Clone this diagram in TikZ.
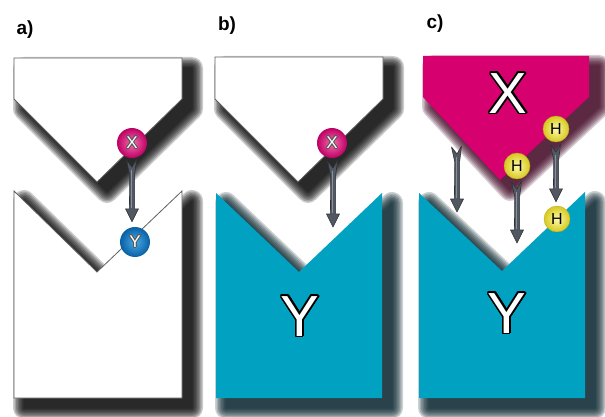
\documentclass[tikz,border=0pt]{standalone}
\usepackage{fontspec}
\setmainfont{Liberation Sans}
\usepackage{contour}
\contournumber{32}
\usetikzlibrary{calc}

\definecolor{tealfill}{RGB}{0,161,193}
\definecolor{magfill}{RGB}{214,0,110}
\definecolor{edgegray}{RGB}{95,95,95}
\definecolor{dartfill}{RGB}{82,88,98}
\definecolor{dartline}{RGB}{45,48,54}
\definecolor{darthi}{RGB}{140,146,156}
\definecolor{tealshadow}{RGB}{0,30,40}
\definecolor{magshadow}{RGB}{60,0,30}

% outlines of the six blocks
\newcommand\blockTopA{(14,58) -- (182,58) -- (182,99) -- (97,182) -- (14,99) -- cycle}
\newcommand\blockTopB{(215,57) -- (383,57) -- (383,99) -- (298,182) -- (215,99) -- cycle}
\newcommand\blockTopC{(423,56) -- (589,56) -- (589,97) -- (500,180) -- (423,97) -- cycle}
\newcommand\blockBotA{(14,191) -- (97,272) -- (182,191) -- (182,398) -- (14,398) -- cycle}
\newcommand\blockBotB{(216,193) -- (299,272) -- (382,193) -- (382,398) -- (216,398) -- cycle}
\newcommand\blockBotC{(419,193) -- (502,271) -- (585,192) -- (585,398) -- (419,398) -- cycle}

% soft shadow: stacked translucent strokes of decreasing width
\newcommand\shadowwidths{22,19,16,13,10,7,4,1}
\newcommand\softshadow[4]{% colour, x shift, y shift, path
  \foreach \w in \shadowwidths {%
    \begin{scope}[xshift=#2, yshift=#3, transparency group, opacity=0.2]
      \path[fill=#1, draw=#1, line width=\w pt, line join=round] #4;
    \end{scope}}}

% feathered arrow from a start point straight down to a tip point
\newcommand\dart[2]{%
  \path[fill=dartfill, draw=dartline, line width=0.6pt, line join=round]
    let \p1=(#1), \p2=(#2) in
    ({\x1-5.5pt},\y1) -- (\x1,{\y1-7pt}) -- ({\x1+4.5pt},{\y1+1pt}) -- ({\x1+2.6pt},{\y1-15pt})
    -- ({\x1+2.6pt},{\y2+13pt}) -- ({\x1+6.5pt},{\y2+13pt}) -- (\x1,\y2)
    -- ({\x1-6.5pt},{\y2+13pt}) -- ({\x1-2.6pt},{\y2+13pt}) -- ({\x1-2.2pt},{\y1-15pt}) -- cycle;
  \path[draw=darthi, line width=1pt]
    let \p1=(#1), \p2=(#2) in ({\x1-0.6pt},{\y1-10pt}) -- ({\x1-0.6pt},{\y2+14pt});}

\tikzset{
  panellabel/.style={font=\bfseries\fontsize{19}{19}\selectfont, inner sep=0pt},
  ball/.style={circle, minimum size=30pt, inner sep=0pt, shading=radial,
    font=\fontsize{17}{17}\selectfont},
  ballM/.style={ball, inner color={rgb,255:red,245;green,110;blue,175}, outer color={rgb,255:red,190;green,0;blue,100}},
  ballB/.style={ball, inner color={rgb,255:red,70;green,170;blue,230}, outer color={rgb,255:red,10;green,95;blue,165}},
  ballH/.style={circle, minimum size=26pt, inner sep=0pt, shading=radial,
    inner color={rgb,255:red,255;green,250;blue,170}, outer color={rgb,255:red,215;green,200;blue,30},
    draw={rgb,255:red,190;green,175;blue,30}, line width=0.4pt,
    font=\fontsize{16}{16}\selectfont},
  bigletter/.style={inner sep=0pt, font=\fontsize{58}{58}\selectfont},
  whiteblock/.style={fill=white, draw=edgegray, line width=0.8pt, line join=miter},
}

\newcommand\ballletter[1]{\contourlength{0.7pt}\contour{black!65}{\textcolor{white}{#1}}}
\newcommand\bigoutlined[1]{\contourlength{1.5pt}\contour{black}{\textcolor{white}{#1}}}

\begin{document}
\begin{tikzpicture}[x=1pt, y=-1pt]
\useasboundingbox (0,0) rectangle (605,417);
\fill[white] (0,0) rectangle (605,417);

% ---------- lower blocks ----------
\softshadow{black}{10pt}{-10pt}{\blockBotA}
\softshadow{tealshadow}{10pt}{-10pt}{\blockBotB}
\softshadow{tealshadow}{10pt}{-10pt}{\blockBotC}
\path[whiteblock] \blockBotA;
\fill[tealfill] \blockBotB;
\fill[tealfill] \blockBotC;

% ---------- upper blocks ----------
\softshadow{black}{10pt}{-10pt}{\blockTopA}
\softshadow{black}{10pt}{-10pt}{\blockTopB}
\softshadow{magshadow}{10pt}{-10pt}{\blockTopC}
\path[whiteblock] \blockTopA;
\path[whiteblock] \blockTopB;
\fill[magfill] \blockTopC;

% ---------- labels ----------
\node[panellabel] (la) at (25,30) {a)};
\node[panellabel] (lb) at (227,26) {b)};
\node[panellabel] (lc) at (435,24) {c)};

\node[bigletter] (bY) at (300,317) {\bigoutlined{Y}};
\node[bigletter] (cX) at (508,94) {\bigoutlined{X}};
\node[bigletter] (cY) at (507,314) {\bigoutlined{Y}};

% ---------- panel a ----------
\node[ballM] (ax) at (132,143) {\ballletter{X}};
\node[ballB] (ay) at (135,242) {\ballletter{Y}};
\dart{$(ax.south)+(0,2)$}{$(ay.north)+(-2,-5)$}

% ---------- panel b ----------
\node[ballM] (bx) at (332,143) {\ballletter{X}};
\coordinate (btip) at (333,227);
\dart{$(bx.south)+(1,3)$}{btip}

% ---------- panel c ----------
\node[ballH] (h1) at (556,129) {H};
\node[ballH] (h2) at (517,166) {H};
\node[ballH] (h3) at (557,219) {H};
\coordinate (cstart) at (457,147);
\coordinate (ctip) at (457,212);
\coordinate (mtip) at (517,243);
\dart{cstart}{ctip}
\dart{$(h2.south)+(0,3)$}{mtip}
\dart{$(h1.south)+(0,3)$}{$(h3.north)+(-1,-4)$}
\end{tikzpicture}
\end{document}
